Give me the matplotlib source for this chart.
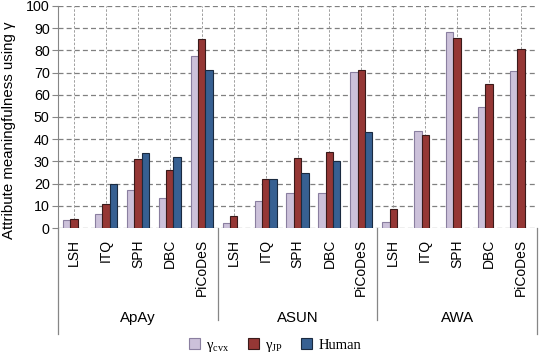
import matplotlib
matplotlib.use("Agg")
import matplotlib.pyplot as plt
import matplotlib.transforms as mtransforms
import numpy as np

plt.rcParams['font.family'] = ['Liberation Sans', 'DejaVu Sans']
plt.rcParams['mathtext.fontset'] = 'custom'
plt.rcParams['mathtext.rm'] = 'Liberation Serif'
plt.rcParams['mathtext.it'] = 'Liberation Serif:italic'

# data
datasets = ['ApAy', 'ASUN', 'AWA']
methods = ['LSH', 'ITQ', 'SPH', 'DBC', 'PiCoDeS']

gamma_cvx = [3.5, 6.5, 17, 13.5, 77.3,
             2.3, 12, 15.6, 15.6, 70.2,
             2.9, 43.5, 88.2, 54.7, 70.5]
gamma_jp = [3.9, 11, 31, 26, 85.2,
            5.3, 22, 31.7, 34.2, 71,
            8.6, 42.1, 85.8, 65, 80.8]
human = [np.nan, 20, 34, 32, 71,
         np.nan, 22, 25, 30.2, 43.3,
         np.nan, np.nan, np.nan, np.nan, np.nan]

series = [
    (gamma_cvx, r'γ$_{\mathrm{cvx}}$', '#CCC1DA', '#8A7FA0'),
    (gamma_jp, r'γ$_{\mathrm{JP}}$', '#953735', '#3A1A1A'),
    (human, 'Human', '#376092', '#1A2A40'),
]

fig = plt.figure(figsize=(5.39, 3.53), dpi=100)
ax = fig.add_axes([58 / 539, 1 - 228 / 353, (537 - 58) / 539, (228 - 6) / 353])

n = len(datasets) * len(methods)
x = np.arange(n)
w = 0.23
handles = []
for k, (vals, lab, fc, ec) in enumerate(series):
    vals = np.array(vals, dtype=float)
    ok = ~np.isnan(vals)
    b = ax.bar(x[ok] + (k - 1) * w, vals[ok], w, color=fc, edgecolor=ec,
               linewidth=0.8, label=lab, zorder=3)
    handles.append(b)

ax.set_xlim(-0.5, n - 0.5)
ax.set_ylim(0, 100)
ax.set_yticks(np.arange(0, 101, 10))
ax.tick_params(axis='y', labelsize=10.3, length=4, color='#868686', pad=2)
ax.set_ylabel('Attribute meaningfulness using γ', fontsize=10.8)
ax.yaxis.set_label_coords(-0.087, 0.44)

ax.set_xticks(x)
ax.set_xticklabels(methods * len(datasets), rotation=90, fontsize=10)
ax.tick_params(axis='x', length=0, pad=8)

for s in ['top', 'right']:
    ax.spines[s].set_visible(False)
ax.spines['left'].set_color('#868686')
ax.spines['bottom'].set_visible(False)

# dashed grid
for yv in np.arange(0, 101, 10):
    ax.axhline(yv, color='#808080', lw=0.9, ls=(0, (4, 2.5)), zorder=1)
for xv in x:
    ax.axvline(xv, color='#909090', lw=0.6, ls=(0, (3, 2)), zorder=1)

# group separators and group labels under the axis
trans = mtransforms.blended_transform_factory(ax.transData, fig.transFigure)
for g in range(len(datasets) + 1):
    xs = g * len(methods) - 0.5
    y0 = 1 - 334 / 353 if g in (0, len(datasets)) else 1 - 320 / 353
    ax.plot([xs, xs], [1 - 228 / 353, y0], transform=trans, color='#868686',
            lw=0.9, clip_on=False)
for g, name in enumerate(datasets):
    ax.text(g * len(methods) + 2, 1 - 318 / 353, name, transform=trans,
            ha='center', va='center', fontsize=10.8)

fig.legend(handles=handles, loc='center', bbox_to_anchor=(0.51, 1 - 346 / 353),
           ncol=3, frameon=False, prop={'family': 'Liberation Serif', 'size': 10.5},
           handlelength=0.75, handleheight=0.75, columnspacing=1.3,
           handletextpad=0.4, borderpad=0.1)

fig.savefig('out.png', dpi=100)
